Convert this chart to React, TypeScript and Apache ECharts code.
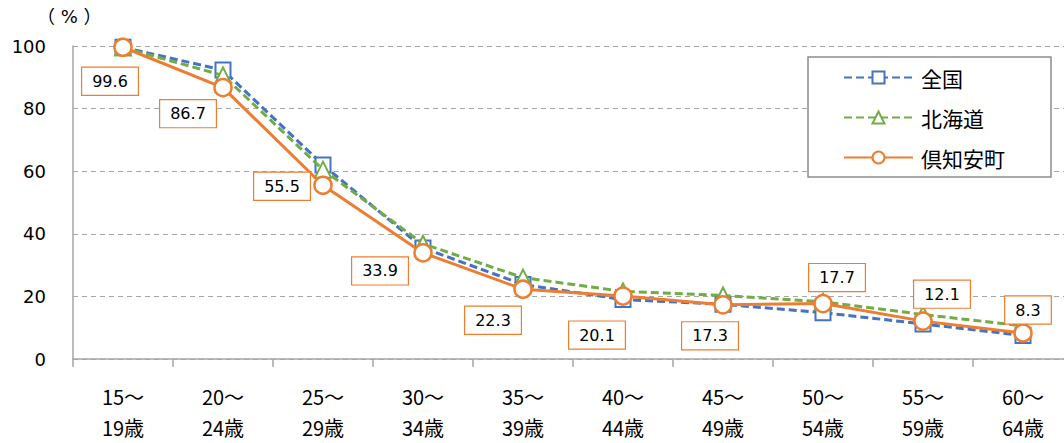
import React, { useEffect, useRef } from "react";
import * as echarts from "echarts";

const categories = [
  "15～\n19歳", "20～\n24歳", "25～\n29歳", "30～\n34歳", "35～\n39歳",
  "40～\n44歳", "45～\n49歳", "50～\n54歳", "55～\n59歳", "60～\n64歳",
];
const zenkoku = [99.6, 92.3, 62.0, 35.5, 23.8, 19.0, 17.5, 14.8, 11.2, 7.5];
const hokkaido = [99.5, 90.6, 60.5, 36.8, 26.0, 21.6, 20.3, 18.3, 14.2, 10.6];
const kutchan = [99.6, 86.7, 55.5, 33.9, 22.3, 20.1, 17.3, 17.7, 12.1, 8.3];
const seriesNames = ["全国", "北海道", "倶知安町"];
const yTicks = { min: 0, max: 100, interval: 20 };
// label placement offsets (px) for the 倶知安町 value boxes
const labelOffsets: [number, number][] = [
  [-13, 34], [-35, 26], [-41, 1], [-43, 18], [-30, 31],
  [-26, 39], [-13, 31], [14, -26], [19, -27], [5, -23],
];

const BLUE = "#4472C4";
const GREEN = "#70AD47";
const ORANGE = "#ED7D31";
const FONT = "'DejaVu Sans', 'Noto Sans CJK JP', sans-serif";
const CJK = "'Noto Sans CJK JP', sans-serif";

export default function App() {
  const ref = useRef<HTMLDivElement>(null);
  useEffect(() => {
    if (!ref.current) return;
    const chart = echarts.init(ref.current, undefined, { renderer: "svg" });
    chart.setOption({
      animation: false,
      textStyle: { fontFamily: FONT },
      grid: { left: 73, top: 46, width: 1000, height: 313, outerBoundsMode: "none", containLabel: false },
      graphic: [
        {
          type: "text",
          left: 37,
          top: 7,
          style: { text: "（ % ）", fontSize: 18, fill: "#000", fontFamily: FONT },
        },
      ],
      legend: {
        orient: "vertical",
        left: 808,
        top: 57,
        data: seriesNames,
        itemWidth: 69,
        itemHeight: 15,
        itemGap: 19,
        padding: [10, 46, 9, 35],
        backgroundColor: "#fff",
        borderColor: "#8c8c8c",
        borderWidth: 1.5,
        textStyle: { fontSize: 21, lineHeight: 21, color: "#000", fontFamily: CJK, padding: [0, 0, 0, 3] },
      },
      xAxis: {
        type: "category",
        data: categories,
        boundaryGap: true,
        axisLine: { lineStyle: { color: "#a6a6a6", width: 1.5 } },
        axisTick: { show: true, length: 8, lineStyle: { color: "#a6a6a6", width: 1.5 } },
        axisLabel: { color: "#000", fontSize: 20, lineHeight: 31, margin: 22, fontFamily: CJK },
      },
      yAxis: {
        type: "value",
        min: yTicks.min,
        max: yTicks.max,
        interval: yTicks.interval,
        axisLine: { show: true, lineStyle: { color: "#a6a6a6", width: 1.5 } },
        axisTick: { show: false },
        axisLabel: { color: "#000", fontSize: 18, margin: 27, fontFamily: FONT },
        splitLine: { lineStyle: { color: "#a6a6a6", type: [5, 4], width: 1.2 } },
      },
      series: [
        {
          name: seriesNames[0],
          type: "line",
          data: zenkoku,
          symbol: "rect",
          symbolSize: 15,
          showAllSymbol: true,
          lineStyle: { color: BLUE, width: 3, type: [8, 4] },
          itemStyle: { color: "#fff", borderColor: BLUE, borderWidth: 2 },
          z: 2,
        },
        {
          name: seriesNames[1],
          type: "line",
          data: hokkaido,
          symbol: "triangle",
          symbolSize: 16,
          showAllSymbol: true,
          lineStyle: { color: GREEN, width: 3, type: [8, 4] },
          itemStyle: { color: "#fff", borderColor: GREEN, borderWidth: 2 },
          z: 3,
        },
        {
          name: seriesNames[2],
          type: "line",
          data: kutchan.map((v, i) => ({
            value: v,
            label: { offset: labelOffsets[i] },
          })),
          symbol: "circle",
          symbolSize: 17,
          showAllSymbol: true,
          lineStyle: { color: ORANGE, width: 3 },
          itemStyle: { color: "#fff", borderColor: ORANGE, borderWidth: 2.5 },
          z: 4,
          label: {
            show: true,
            position: "inside",
            formatter: (p: any) => p.value.toFixed(1),
            color: "#000",
            fontSize: 16,
            fontFamily: FONT,
            backgroundColor: "#fff",
            borderColor: ORANGE,
            borderWidth: 1.2,
            padding: [6, 10, 5, 10],
            align: "center",
            verticalAlign: "middle",
          },
        },
      ],
    });
    return () => chart.dispose();
  }, []);
  return (
    <div
      ref={ref}
      style={{ position: "fixed", left: 0, top: 0, width: 1064, height: 443, background: "#fff" }}
    />
  );
}
